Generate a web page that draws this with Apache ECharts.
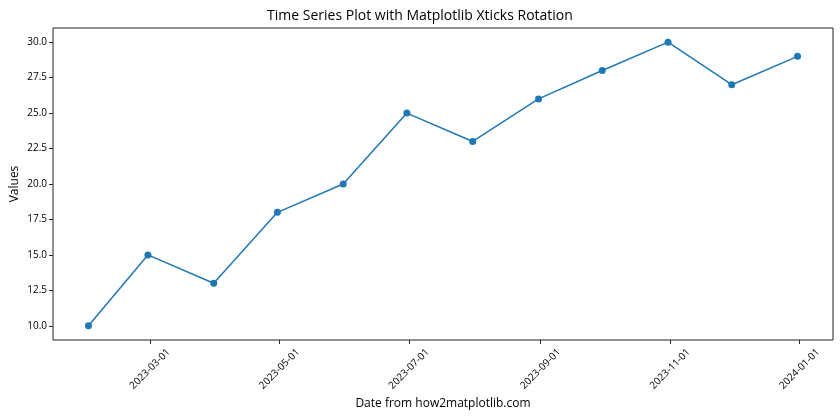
<!DOCTYPE html>
<html>
<head>
<meta charset="utf-8">
<script src="https://cdn.jsdelivr.net/npm/echarts@6/dist/echarts.min.js"></script>
<style>
html,body{margin:0;padding:0;background:#fff;}
#main{width:840px;height:420px;}
</style>
</head>
<body>
<div id="main"></div>
<script>
var dates = ['2023-01-31','2023-02-28','2023-03-31','2023-04-30','2023-05-31','2023-06-30','2023-07-31','2023-08-31','2023-09-30','2023-10-31','2023-11-30','2023-12-31'];
var values = [10, 15, 13, 18, 20, 25, 23, 26, 28, 30, 27, 29];
var xTickLabels = ['2023-03-01','2023-05-01','2023-07-01','2023-09-01','2023-11-01','2024-01-01'];
var yTickLabels = [10.0, 12.5, 15.0, 17.5, 20.0, 22.5, 25.0, 27.5, 30.0];

function parseLocal(s){var p=s.split('-');return new Date(+p[0], +p[1]-1, +p[2]).getTime();}
function pad2(n){return (n<10?'0':'')+n;}
function fmt(t){var d=new Date(Math.round(t));return d.getFullYear()+'-'+pad2(d.getMonth()+1)+'-'+pad2(d.getDate());}

var xs = dates.map(parseLocal);
var span = xs[xs.length-1]-xs[0];
var xMin = xs[0]-0.05*span, xMax = xs[xs.length-1]+0.05*span;
var vMin = Math.min.apply(null, values), vMax = Math.max.apply(null, values);
var yMin = vMin-0.05*(vMax-vMin), yMax = vMax+0.05*(vMax-vMin);
var xTickVals = xTickLabels.map(parseLocal);

var font = '"Open Sans", "Noto Sans", sans-serif';
var chart = echarts.init(document.getElementById('main'), null, {renderer:'canvas'});
chart.setOption({
  animation:false,
  backgroundColor:'#fff',
  title:{text:'Time Series Plot with Matplotlib Xticks Rotation', left:'center', top:4,
    textStyle:{fontFamily:font, fontSize:14, fontWeight:'normal', color:'#000'}},
  grid:{left:53, right:7, top:28, bottom:80, containLabel:false, outerBoundsMode:'none',
    show:true, borderColor:'#222', borderWidth:1, backgroundColor:'transparent'},
  xAxis:{type:'value', min:xMin, max:xMax, scale:true,
    name:'Date from how2matplotlib.com', nameLocation:'middle', nameGap:58, nameMoveOverlap:false,
    nameTextStyle:{fontFamily:font, fontSize:12, color:'#000'},
    axisLine:{show:false},
    splitLine:{show:false},
    axisTick:{show:true, inside:false, length:4, lineStyle:{color:'#222'}, customValues:xTickVals},
    axisLabel:{rotate:45, align:'center', verticalAlign:'middle', margin:29, fontFamily:font, fontSize:10, color:'#000',
      customValues:xTickVals, formatter:function(v){return fmt(v);}, hideOverlap:false}
  },
  yAxis:{type:'value', min:yMin, max:yMax,
    name:'Values', nameLocation:'middle', nameGap:32, nameMoveOverlap:false,
    nameTextStyle:{fontFamily:font, fontSize:12, color:'#000'},
    axisLine:{show:false},
    splitLine:{show:false},
    axisTick:{show:true, inside:false, length:4, lineStyle:{color:'#222'}, customValues:yTickLabels},
    axisLabel:{fontFamily:font, fontSize:10, color:'#000', margin:6, customValues:yTickLabels,
      formatter:function(v){return v.toFixed(1);}}
  },
  series:[{type:'line', data:xs.map(function(t,i){return [t, values[i]];}),
    symbol:'circle', symbolSize:7, showSymbol:true,
    lineStyle:{color:'#1f77b4', width:1.5}, itemStyle:{color:'#1f77b4'}}]
});
</script>
</body>
</html>
